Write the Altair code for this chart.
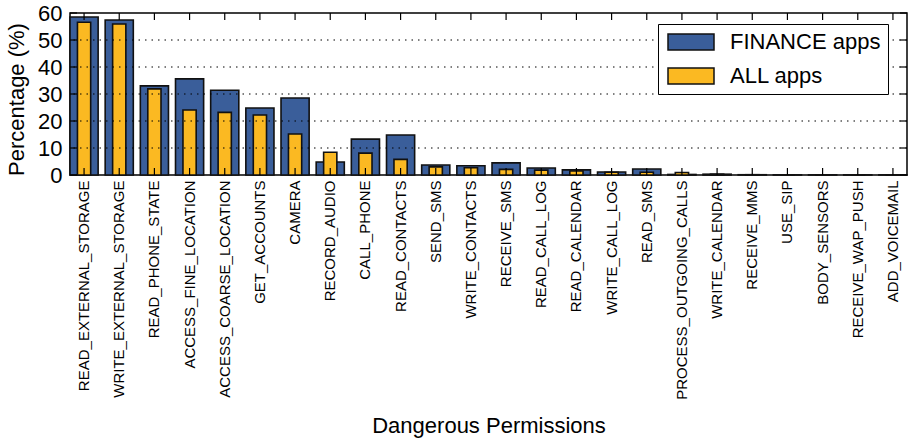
import altair as alt
import pandas as pd

categories = [
    "READ_EXTERNAL_STORAGE", "WRITE_EXTERNAL_STORAGE", "READ_PHONE_STATE",
    "ACCESS_FINE_LOCATION", "ACCESS_COARSE_LOCATION", "GET_ACCOUNTS", "CAMERA",
    "RECORD_AUDIO", "CALL_PHONE", "READ_CONTACTS", "SEND_SMS", "WRITE_CONTACTS",
    "RECEIVE_SMS", "READ_CALL_LOG", "READ_CALENDAR", "WRITE_CALL_LOG", "READ_SMS",
    "PROCESS_OUTGOING_CALLS", "WRITE_CALENDAR", "RECEIVE_MMS", "USE_SIP",
    "BODY_SENSORS", "RECEIVE_WAP_PUSH", "ADD_VOICEMAIL",
]
finance = [58.5, 57.4, 33.0, 35.6, 31.4, 24.8, 28.5, 4.8, 13.3, 14.8, 3.7, 3.4,
           4.5, 2.6, 1.9, 1.1, 2.2, 0.2, 0.3, 0.1, 0.05, 0.05, 0.05, 0.05]
all_apps = [56.6, 55.9, 31.9, 24.1, 23.2, 22.2, 15.2, 8.4, 8.1, 5.8, 3.0, 2.7,
            2.1, 1.8, 1.5, 1.0, 1.0, 0.9, 0.3, 0.1, 0.05, 0.05, 0.05, 0.05]
series_names = ["FINANCE apps", "ALL apps"]
series_colors = ["#3A5E9A", "#FBB922"]
y_ticks = [0, 10, 20, 30, 40, 50, 60]
grid_values = [10, 20, 30, 40, 50]

W, H = 837, 162
FONT = "Liberation Sans"

df = pd.DataFrame({
    "perm": categories * 2,
    "series": [series_names[0]] * len(categories) + [series_names[1]] * len(categories),
    "value": finance + all_apps,
})
cat_df = pd.DataFrame({"perm": categories})
ytick_df = pd.DataFrame({"value": y_ticks})
grid_df = pd.DataFrame({"value": grid_values})

xscale = alt.Scale(domain=categories, paddingInner=0.2, paddingOuter=0)
yscale = alt.Scale(domain=[0, 60], nice=False)
color = alt.Color(
    "series:N",
    scale=alt.Scale(domain=series_names, range=series_colors),
    legend=alt.Legend(
        title=None, orient="none", legendX=588, legendY=11,
        fillColor="white", strokeColor="black", padding=7,
        symbolType="M-2.3,-0.8L2.3,-0.8L2.3,0.8L-2.3,0.8Z", symbolSize=400,
        symbolStrokeColor="#111", symbolStrokeWidth=1.5, symbolOffset=15,
        labelOffset=28, labelFontSize=22, labelFont=FONT, labelColor="black",
        labelLimit=300, rowPadding=12,
    ),
)

xaxis = alt.Axis(
    labelAngle=-90, labelFontSize=15, labelFont=FONT, labelColor="black",
    ticks=False, domain=False, labelPadding=5, tickSize=0, labelLimit=400,
    title="Dangerous Permissions", titleFontSize=22, titleFont=FONT,
    titleFontWeight="normal", titleColor="black", titleY=257,
    titleBaseline="alphabetic",
)
yaxis = alt.Axis(
    values=y_ticks, labelFontSize=22, labelFont=FONT, labelColor="black",
    ticks=False, tickSize=0, domain=False, grid=False, labelPadding=8,
    title="Percentage (%)", titleFontSize=22, titleFont=FONT,
    titleFontWeight="normal", titleColor="black", titleX=-47, titleY=86,
    titleBaseline="alphabetic",
)


def X():
    return alt.X("perm:N", scale=xscale, axis=xaxis, sort=categories)


def Y():
    return alt.Y("value:Q", scale=yscale, axis=yaxis)


base = alt.Chart(df)
blue = base.transform_filter(alt.datum.series == series_names[0]).mark_bar(
    stroke="#111", strokeWidth=1.6
).encode(x=X(), y=Y(), color=color)
yellow = base.transform_filter(alt.datum.series == series_names[1]).mark_bar(
    stroke="#111", strokeWidth=1.6, width={"band": 0.47}
).encode(x=X(), y=Y(), color=color)
grid = alt.Chart(grid_df).mark_rule(
    color="black", strokeWidth=1, strokeDash=[1.5, 5]
).encode(y=Y())

top_ticks = alt.Chart(cat_df).mark_rule(color="black", strokeWidth=1.2).encode(
    x=X(), y=alt.value(0), y2=alt.value(7),
)
bottom_ticks = alt.Chart(cat_df).mark_rule(color="black", strokeWidth=1.2).encode(
    x=X(), y=alt.value(H), y2=alt.value(H - 7),
)
left_ticks = alt.Chart(ytick_df).mark_rule(color="black", strokeWidth=1.2).encode(
    y=Y(), x=alt.value(0), x2=alt.value(7),
)
right_ticks = alt.Chart(ytick_df).mark_rule(color="black", strokeWidth=1.2).encode(
    y=Y(), x=alt.value(W - 7), x2=alt.value(W),
)

chart = alt.layer(
    blue, yellow, grid, top_ticks, bottom_ticks, left_ticks, right_ticks
).properties(
    width=W, height=H,
    padding={"left": 70, "top": 13, "right": 5, "bottom": 263},
    autosize=alt.AutoSizeParams(type="none"),
    background="white",
).configure_view(stroke="black", strokeWidth=1.5)

chart.save("out.html", embed_options={"renderer": "svg", "actions": False})
